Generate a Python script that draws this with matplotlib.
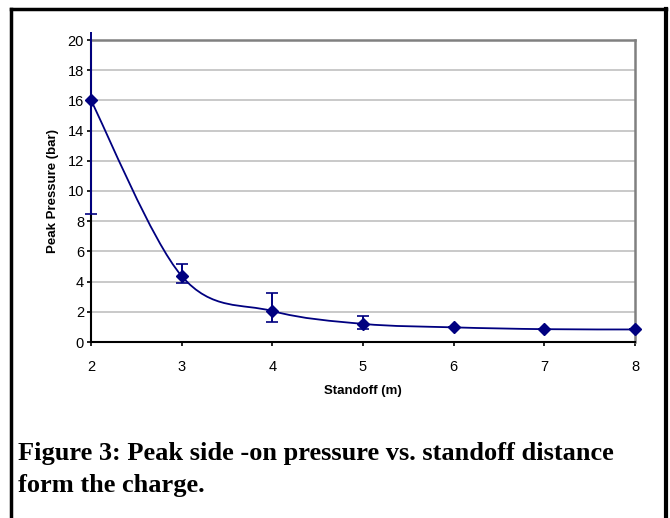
import matplotlib
matplotlib.use("Agg")
import matplotlib.pyplot as plt
from matplotlib.path import Path
from matplotlib.patches import PathPatch
from matplotlib.lines import Line2D
from matplotlib.transforms import Bbox, TransformedBbox

# data
standoff = [2, 3, 4, 5, 6, 7, 8]
pressure = [16.0, 4.37, 2.05, 1.2, 0.97, 0.85, 0.83]
err_low = [7.5, 0.45, 0.75, 0.35, 0.0, 0.0, 0.0]
err_high = [7.5, 0.8, 1.2, 0.5, 0.0, 0.0, 0.0]

navy = "#000080"

plt.rcParams["font.family"] = ["Liberation Sans", "DejaVu Sans"]

fig = plt.figure(figsize=(6.7, 5.18), dpi=100)
W, H = 670, 518
ax = fig.add_axes([91 / W, (H - 342) / H, (635 - 91) / W, (342 - 40) / H])

ax.set_xlim(2, 8)
ax.set_ylim(0, 20)
ax.set_xticks(range(2, 9))
ax.set_yticks(range(0, 21, 2))
ax.yaxis.grid(True, color="#c0c0c0", linewidth=1.2)
ax.set_axisbelow(True)

for s in ["top", "right"]:
    ax.spines[s].set_color("#808080")
    ax.spines[s].set_linewidth(1.8)
for s in ["left", "bottom"]:
    ax.spines[s].set_color("black")
    ax.spines[s].set_linewidth(1.5)

ax.tick_params(axis="both", direction="out", length=3, width=1.2,
               labelsize=10.5, color="black")
ax.tick_params(axis="y", pad=2)
ax.tick_params(axis="x", pad=10)

# smoothed line (Excel-style bezier through the points)
pts = list(zip(standoff, pressure))
verts = [pts[0]]
codes = [Path.MOVETO]
n = len(pts)
for i in range(n - 1):
    p_prev = pts[i - 1] if i > 0 else pts[i]
    p0 = pts[i]
    p1 = pts[i + 1]
    p_next = pts[i + 2] if i + 2 < n else pts[i + 1]
    c1 = (p0[0] + (p1[0] - p_prev[0]) / 6, p0[1] + (p1[1] - p_prev[1]) / 6)
    c2 = (p1[0] - (p_next[0] - p0[0]) / 6, p1[1] - (p_next[1] - p0[1]) / 6)
    verts += [c1, c2, p1]
    codes += [Path.CURVE4] * 3
ax.add_patch(PathPatch(Path(verts, codes), facecolor="none", edgecolor=navy,
                       linewidth=1.3, zorder=3, clip_on=False))

eb = ax.errorbar(standoff, pressure, yerr=[err_low, err_high], fmt="D",
                 color=navy, ecolor=navy, markersize=6, elinewidth=1.4,
                 capsize=4, capthick=1.2, zorder=4)
clip = TransformedBbox(Bbox([[0, 0], [1, (H - 32) / H]]), fig.transFigure)
for art in [eb[0], *eb[1], *eb[2]]:
    art.set_clip_on(True)
    art.set_clip_box(clip)

ax.set_xlabel("Standoff (m)", fontsize=9.5, fontweight="bold", labelpad=8)
ax.set_ylabel("Peak Pressure (bar)", fontsize=9.5, fontweight="bold", labelpad=6)

# frame around the figure (no bottom edge)
fig.add_artist(Line2D([11 / W, 11 / W], [0, 1 - 8.5 / H], color="black",
                      linewidth=2.5, transform=fig.transFigure))
fig.add_artist(Line2D([11 / W, 666 / W], [1 - 8.5 / H, 1 - 8.5 / H],
                      color="black", linewidth=2.5, transform=fig.transFigure,
                      solid_capstyle="projecting"))
fig.add_artist(Line2D([666 / W, 666 / W], [0, 1 - 8.5 / H], color="black",
                      linewidth=3, transform=fig.transFigure))

cap_font = ["Liberation Serif", "DejaVu Serif"]
fig.text(18 / W, 1 - 460 / H, "Figure 3: Peak side -on pressure vs. standoff distance",
         fontsize=19, fontweight="bold", family=cap_font, va="baseline")
fig.text(18 / W, 1 - 492 / H, "form the charge.",
         fontsize=19, fontweight="bold", family=cap_font, va="baseline")

fig.savefig("out.png", dpi=100)
